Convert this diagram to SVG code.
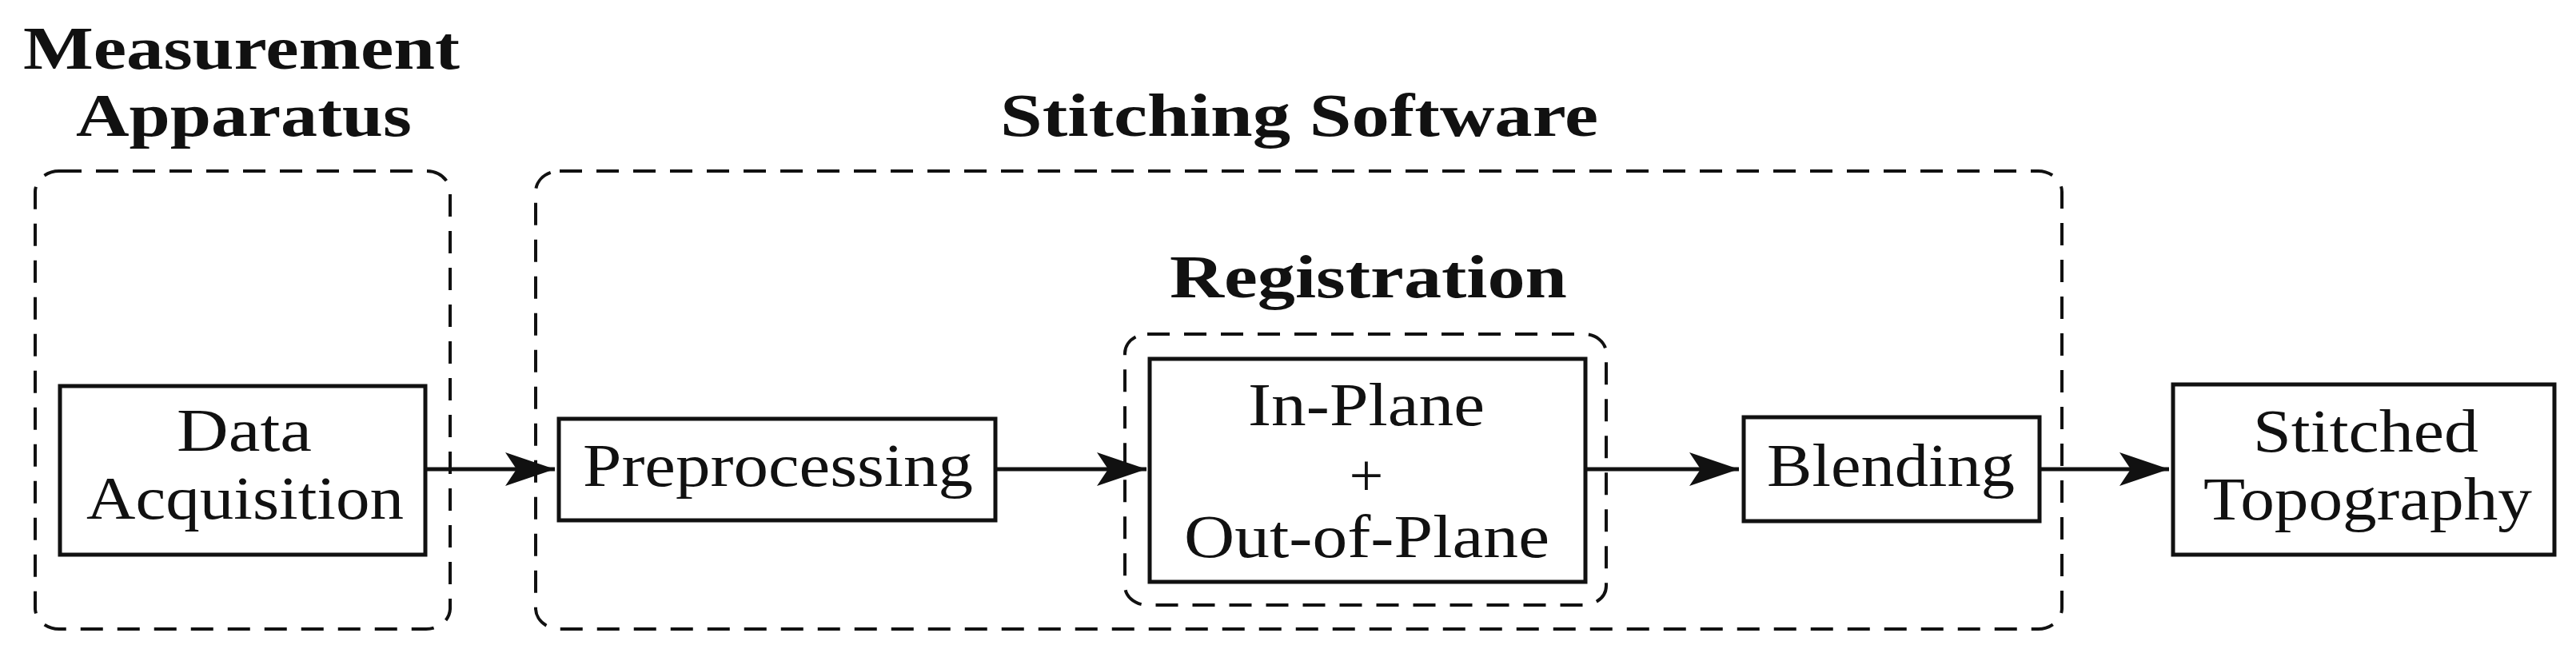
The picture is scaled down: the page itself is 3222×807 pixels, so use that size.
<svg xmlns="http://www.w3.org/2000/svg" width="3222" height="807" viewBox="0 0 3222 807">
<style>
.t{font-family:"Liberation Serif",serif;font-size:76px;fill:#111}
.b{font-weight:bold}
.box{fill:#fff;stroke:#111;stroke-width:5}
.grp{fill:none;stroke:#111;stroke-width:4;stroke-dasharray:28 18}
.c{fill:none;stroke:#111;stroke-width:5}
</style>
<defs>
<marker id="ah" markerUnits="userSpaceOnUse" markerWidth="70" markerHeight="50" refX="62" refY="25" orient="auto">
<path d="M0,4 L62,25 L0,46 L14,25 Z" fill="#111"/>
</marker>
</defs>
<rect width="3222" height="807" fill="#fff"/>
<g id="measurement">
<rect class="grp" x="44" y="214" width="519" height="573" rx="30" ry="26"/>
<text class="t b" x="29" y="86" textLength="546" lengthAdjust="spacingAndGlyphs">Measurement</text>
<text class="t b" x="95" y="170" textLength="420" lengthAdjust="spacingAndGlyphs">Apparatus</text>
</g>
<g id="stitching">
<rect class="grp" x="670" y="214" width="1909" height="573" rx="30" ry="26"/>
<text class="t b" x="1251" y="170" textLength="748" lengthAdjust="spacingAndGlyphs">Stitching Software</text>
</g>
<g id="registration">
<rect class="grp" x="1407" y="418" width="602" height="339" rx="28" ry="24"/>
<text class="t b" x="1463" y="372" textLength="497" lengthAdjust="spacingAndGlyphs">Registration</text>
</g>
<g id="data">
<rect class="box" x="75" y="483" width="457" height="211"/>
<text class="t" x="221" y="564" textLength="169" lengthAdjust="spacingAndGlyphs">Data</text>
<text class="t" x="108" y="649" textLength="397" lengthAdjust="spacingAndGlyphs">Acquisition</text>
</g>
<g id="preprocessing">
<rect class="box" x="699" y="524" width="546" height="127"/>
<text class="t" x="729" y="608" textLength="488" lengthAdjust="spacingAndGlyphs">Preprocessing</text>
</g>
<g id="inplane">
<rect class="box" x="1438" y="449" width="545" height="279"/>
<text class="t" x="1561" y="532" textLength="296" lengthAdjust="spacingAndGlyphs">In-Plane</text>
<text class="t" x="1709" y="620" text-anchor="middle">+</text>
<text class="t" x="1481" y="697" textLength="457" lengthAdjust="spacingAndGlyphs">Out-of-Plane</text>
</g>
<g id="blending">
<rect class="box" x="2181" y="522" width="370" height="130"/>
<text class="t" x="2210" y="608" textLength="310" lengthAdjust="spacingAndGlyphs">Blending</text>
</g>
<g id="stitched">
<rect class="box" x="2718" y="481" width="477" height="213"/>
<text class="t" x="2818" y="565" textLength="282" lengthAdjust="spacingAndGlyphs">Stitched</text>
<text class="t" x="2756" y="650" textLength="411" lengthAdjust="spacingAndGlyphs">Topography</text>
</g>
<g id="connectors">
<line class="c" x1="532" y1="587" x2="694" y2="587" marker-end="url(#ah)"/>
<line class="c" x1="1245" y1="587" x2="1434" y2="587" marker-end="url(#ah)"/>
<line class="c" x1="1983" y1="587" x2="2175" y2="587" marker-end="url(#ah)"/>
<line class="c" x1="2551" y1="587" x2="2713" y2="587" marker-end="url(#ah)"/>
</g>
</svg>
